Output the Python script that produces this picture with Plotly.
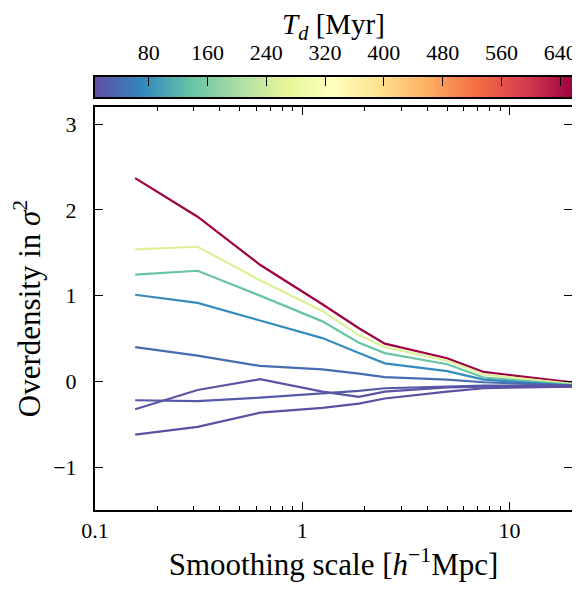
import numpy as np
import plotly.graph_objects as go
import plotly.colors as pc

# ---------------- data ----------------
scales = [0.15625, 0.3125, 0.625, 1.25, 1.875, 2.5, 5.0, 7.5, 20.0]

td_values = [656, 255, 140, 75, 40, 20, 12, 7]  # Myr

od_656 = [2.37, 1.92, 1.36, 0.90, 0.62, 0.44, 0.27, 0.11, -0.01]
od_255 = [1.54, 1.57, 1.18, 0.82, 0.54, 0.40, 0.24, 0.08, -0.03]
od_140 = [1.245, 1.29, 1.00, 0.70, 0.45, 0.33, 0.20, 0.045, -0.04]
od_75 = [1.01, 0.915, 0.71, 0.505, 0.33, 0.21, 0.12, 0.02, -0.05]
od_40 = [0.40, 0.30, 0.18, 0.14, 0.09, 0.05, 0.02, -0.01, -0.05]
od_20 = [-0.22, -0.23, -0.19, -0.14, -0.11, -0.08, -0.06, -0.05, -0.05]
od_12 = [-0.325, -0.10, 0.025, -0.12, -0.18, -0.12, -0.07, -0.06, -0.06]
od_7 = [-0.62, -0.53, -0.365, -0.31, -0.26, -0.20, -0.12, -0.08, -0.06]

series = [od_656, od_255, od_140, od_75, od_40, od_20, od_12, od_7]

cbar_ticks = [80, 160, 240, 320, 400, 480, 560, 640]
x_ticks = [0.1, 1, 10]
x_ticktext = ["0.1", "1", "10"]
x_minor = [0.2, 0.3, 0.4, 0.5, 0.6, 0.7, 0.8, 0.9, 2, 3, 4, 5, 6, 7, 8, 9]
y_ticks = [-1, 0, 1, 2, 3]
y_ticktext = ["\u22121", "0", "1", "2", "3"]

# ---------------- colours ----------------
spectral_r = pc.make_colorscale(pc.diverging.Spectral[::-1])
tmin, tmax = min(td_values), max(td_values)

fig = go.Figure()

for ys, td in zip(series, td_values):
    col = pc.sample_colorscale(spectral_r, [(td - tmin) / (tmax - tmin)])[0]
    fig.add_trace(go.Scatter(x=scales, y=ys, mode="lines",
                             line=dict(color=col, width=2.2),
                             showlegend=False, hoverinfo="skip",
                             xaxis="x", yaxis="y"))

# colourbar drawn as a heatmap strip
grad = np.linspace(tmin, tmax, 400)
fig.add_trace(go.Heatmap(x=grad, y=[0], z=[grad], colorscale=spectral_r,
                         zmin=tmin, zmax=tmax, showscale=False,
                         hoverinfo="skip", xaxis="x2", yaxis="y2"))

font_family = "Liberation Serif, DejaVu Serif, serif"
title_size = 31
tick_size = 22
# the page body has an 8px margin, so the figure is 8px smaller than the window
fig.update_layout(
    width=572, height=582,
    margin=dict(l=87, r=8, t=2, b=80, autoexpand=False),
    plot_bgcolor="white", paper_bgcolor="white",
    font=dict(family=font_family, size=tick_size, color="black"),
    xaxis=dict(
        type="log", range=[-1, np.log10(20)], domain=[0, 1], anchor="y",
        tickvals=x_ticks, ticktext=x_ticktext, automargin=False,
        ticks="inside", ticklen=8, tickwidth=1, tickcolor="black",
        showline=True, linewidth=2, linecolor="black", mirror="ticks",
        showgrid=False, zeroline=False, ticklabelstandoff=0,
        minor=dict(ticks="inside", ticklen=4, tickwidth=1, tickcolor="black",
                   tickvals=x_minor, showgrid=False),
        title=dict(text="Smoothing scale [<i>h</i><sup>\u22121</sup>Mpc]",
                   font=dict(size=title_size), standoff=6),
    ),
    yaxis=dict(
        domain=[0, 0.806], range=[-1.5, 3.2], anchor="x", automargin=False,
        tickvals=y_ticks, ticktext=y_ticktext,
        ticks="inside", ticklen=8, tickwidth=1, tickcolor="black",
        showline=True, linewidth=2, linecolor="black", mirror="ticks",
        showgrid=False, zeroline=False, ticklabelstandoff=12,
        title=dict(text="Overdensity in <i>\u03c3</i><sup>2</sup>",
                   font=dict(size=title_size), standoff=10),
    ),
    xaxis2=dict(
        domain=[0, 1], anchor="y2", side="top", range=[tmin, tmax],
        automargin=False, ticklabeloverflow="allow",
        tickvals=cbar_ticks, ticks="inside", ticklen=9, tickwidth=1,
        tickcolor="black", showline=True, linewidth=2, linecolor="black",
        mirror=True, showgrid=False, zeroline=False, ticklabelstandoff=6,
        title=dict(text="<i>T</i><sub><i>d</i></sub> [Myr]",
                   font=dict(size=29), standoff=5),
    ),
    yaxis2=dict(
        domain=[0.826, 0.866], anchor="x2", range=[-0.5, 0.5],
        automargin=False,
        showticklabels=False, ticks="", showline=True, linewidth=2,
        linecolor="black", mirror=True, showgrid=False, zeroline=False,
    ),
)

fig.write_html("out.html")
